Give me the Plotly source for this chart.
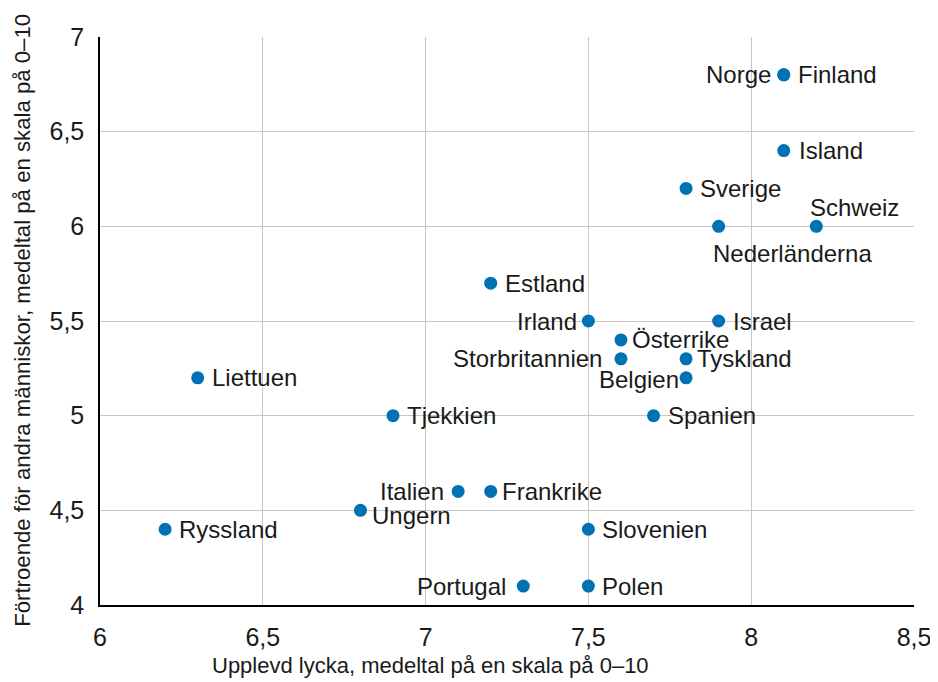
import plotly.graph_objects as go

countries = ["Norge", "Finland", "Island", "Sverige", "Nederländerna", "Schweiz",
             "Estland", "Irland", "Israel", "Österrike", "Storbritannien", "Tyskland",
             "Belgien", "Liettuen", "Tjekkien", "Spanien", "Italien", "Frankrike",
             "Ungern", "Ryssland", "Slovenien", "Portugal", "Polen"]
lycka = [8.1, 8.1, 8.1, 7.8, 7.9, 8.2,
         7.2, 7.5, 7.9, 7.6, 7.6, 7.8,
         7.8, 6.3, 6.9, 7.7, 7.1, 7.2,
         6.8, 6.2, 7.5, 7.3, 7.5]
fortroende = [6.8, 6.8, 6.4, 6.2, 6.0, 6.0,
              5.7, 5.5, 5.5, 5.4, 5.3, 5.3,
              5.2, 5.2, 5.0, 5.0, 4.6, 4.6,
              4.5, 4.4, 4.4, 4.1, 4.1]
x_ticks = [6, 6.5, 7, 7.5, 8, 8.5]
x_ticklabels = ["6", "6,5", "7", "7,5", "8", "8,5"]
y_ticks = [4, 4.5, 5, 5.5, 6, 6.5, 7]
y_ticklabels = ["4", "4,5", "5", "5,5", "6", "6,5", "7"]

# label placement: (xanchor, yanchor, xshift, yshift)
placement = {
    "Norge": ("right", "middle", -11, 0),
    "Finland": ("left", "middle", 12, 0),
    "Island": ("left", "middle", 13, 0),
    "Sverige": ("left", "middle", 12, 0),
    "Nederländerna": ("center", "middle", 74, -27),
    "Schweiz": ("center", "middle", 38, 19),
    "Estland": ("left", "middle", 12, 0),
    "Irland": ("right", "middle", -9, 0),
    "Israel": ("left", "middle", 12, 0),
    "Österrike": ("left", "middle", 9, 0),
    "Storbritannien": ("right", "middle", -17, 0),
    "Tyskland": ("left", "middle", 9, 0),
    "Belgien": ("right", "middle", -5, -2),
    "Liettuen": ("left", "middle", 12, 0),
    "Tjekkien": ("left", "middle", 12, 0),
    "Spanien": ("left", "middle", 12, 0),
    "Italien": ("right", "middle", -12, 0),
    "Frankrike": ("left", "middle", 9, 0),
    "Ungern": ("left", "middle", 10, -5),
    "Ryssland": ("left", "middle", 12, 0),
    "Slovenien": ("left", "middle", 12, 0),
    "Portugal": ("right", "middle", -15, 0),
    "Polen": ("left", "middle", 12, 0),
}

FONT = "Liberation Sans, Arial, sans-serif"
TXT = "#1a1a1a"

fig = go.Figure()
fig.add_trace(go.Scatter(
    x=lycka, y=fortroende, mode="markers", text=countries,
    marker=dict(color="#0071b3", size=13),
    hoverinfo="text", showlegend=False,
))

for c, xv, yv in zip(countries, lycka, fortroende):
    xa, ya, xs, ys = placement[c]
    fig.add_annotation(x=xv, y=yv, text=c, showarrow=False,
                       xanchor=xa, yanchor=ya, xshift=xs, yshift=ys,
                       font=dict(family=FONT, size=24, color=TXT))

fig.add_annotation(xref="paper", yref="paper", x=0.4066, y=-0.106,
                   text="Upplevd lycka, medeltal på en skala på 0–10",
                   showarrow=False, xanchor="center", yanchor="middle",
                   font=dict(family=FONT, size=22, color=TXT))
fig.add_annotation(xref="paper", yref="paper", x=-0.0946, y=0.502,
                   text="Förtroende för andra människor, medeltal på en skala på 0–10",
                   showarrow=False, xanchor="center", yanchor="middle", textangle=-90,
                   font=dict(family=FONT, size=22.2, color=TXT))

# page body has an 8px margin, so the figure is 8px smaller and shifted
fig.update_layout(
    width=930, height=674,
    margin=dict(l=92, r=24, t=29, b=77),
    plot_bgcolor="white", paper_bgcolor="white",
    font=dict(family=FONT, color=TXT),
)
fig.update_xaxes(
    range=[6, 8.5], tickvals=x_ticks, ticktext=x_ticklabels,
    showgrid=True, gridcolor="#c6c6c6", gridwidth=1,
    showline=True, linecolor="black", linewidth=1.5,
    ticks="outside", ticklen=9, tickcolor="rgba(0,0,0,0)",
    tickfont=dict(family=FONT, size=25, color=TXT), zeroline=False,
    automargin=False,
)
fig.update_yaxes(
    range=[4, 7], tickvals=y_ticks, ticktext=y_ticklabels,
    showgrid=True, gridcolor="#c6c6c6", gridwidth=1,
    showline=True, linecolor="black", linewidth=1.5,
    ticks="outside", ticklen=9, tickcolor="rgba(0,0,0,0)",
    tickfont=dict(family=FONT, size=25, color=TXT), zeroline=False,
    automargin=False,
)
fig.write_html("out.html")
